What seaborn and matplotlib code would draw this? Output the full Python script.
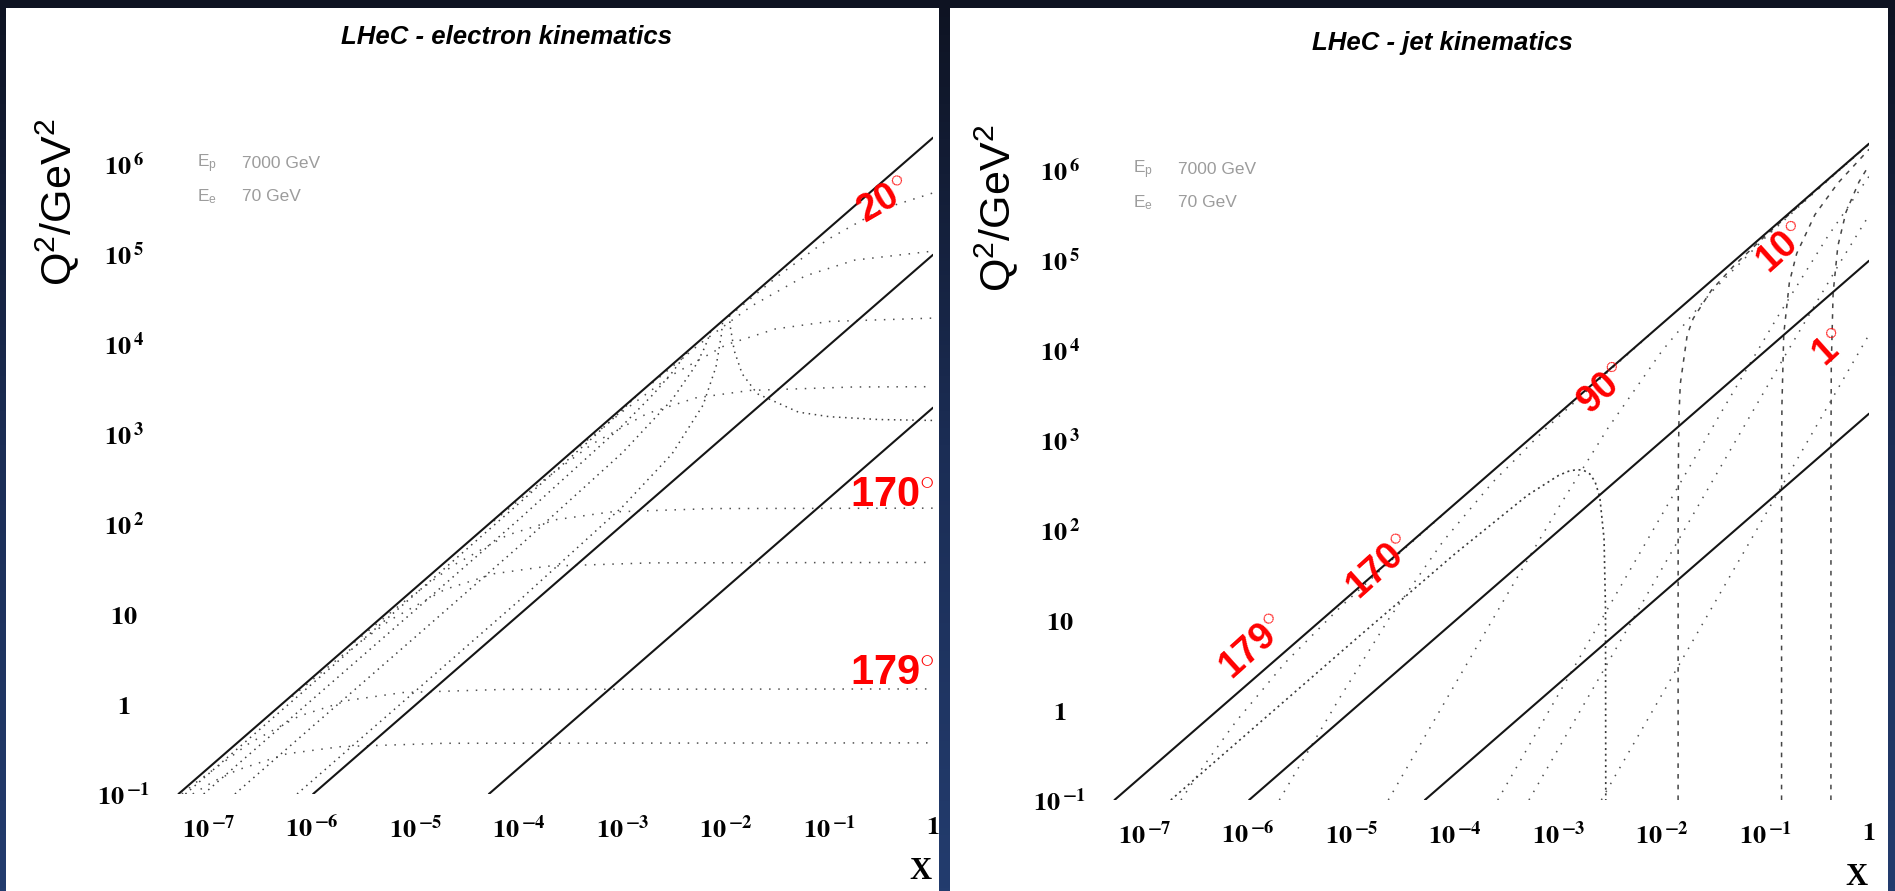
import numpy as np
import pandas as pd
import matplotlib
matplotlib.use("Agg")
import matplotlib.pyplot as plt
from matplotlib.colors import LinearSegmentedColormap
from matplotlib.patches import Rectangle
import seaborn as sns

sns.set_theme(style="white")
plt.rcParams["font.family"] = ["Liberation Sans", "DejaVu Sans"]
plt.rcParams["mathtext.fontset"] = "stix"
plt.rcParams["mathtext.rm"] = "Liberation Sans"
plt.rcParams["mathtext.bf"] = "Liberation Sans:bold"
plt.rcParams["mathtext.it"] = "Liberation Sans:italic"
plt.rcParams["mathtext.sf"] = "Liberation Sans"

# ---------------- axis ticks ----------------
X_TICKS = [1e-7, 1e-6, 1e-5, 1e-4, 1e-3, 1e-2, 1e-1, 1.0]
X_TICK_LABELS = [r"$\mathbf{10}^{\,\mathbf{-7}}$", r"$\mathbf{10}^{\,\mathbf{-6}}$",
                 r"$\mathbf{10}^{\,\mathbf{-5}}$", r"$\mathbf{10}^{\,\mathbf{-4}}$",
                 r"$\mathbf{10}^{\,\mathbf{-3}}$", r"$\mathbf{10}^{\,\mathbf{-2}}$",
                 r"$\mathbf{10}^{\,\mathbf{-1}}$", r"$\mathbf{1}$"]
Q2_TICKS = [1e-1, 1.0, 10.0, 1e2, 1e3, 1e4, 1e5, 1e6]
Q2_TICK_LABELS = [r"$\mathbf{10}^{\,\mathbf{-1}}$", r"$\mathbf{1}$", r"$\mathbf{10}$",
                  r"$\mathbf{10}^{\,\mathbf{2}}$", r"$\mathbf{10}^{\,\mathbf{3}}$",
                  r"$\mathbf{10}^{\,\mathbf{4}}$", r"$\mathbf{10}^{\,\mathbf{5}}$",
                  r"$\mathbf{10}^{\,\mathbf{6}}$"]

TITLES = ["LHeC - electron kinematics", "LHeC - jet kinematics"]
BEAM_NAMES = [r"E$_{\rm p}$", r"E$_{\rm e}$"]
BEAM_VALUES = ["7000 GeV", "70 GeV"]

# ---------------- constant-y lines (both panels) ----------------
Y_LINE_X = {"y=1": [5.1e-8, 1.0], "y=0.05": [1.02e-6, 1.0], "y=0.001": [5.1e-5, 1.0]}
Y_LINE_Q2 = {"y=1": [0.1, 1.96e6], "y=0.05": [0.1, 9.8e4], "y=0.001": [0.1, 1960.0]}

# ---------------- electron panel: scattered-electron angle ----------------
E_THETA_X = {
    "179.5": [7.0e-8, 1.13e-7, 1.9e-7, 5.7e-7, 1.9e-6, 1.9e-5, 1.0],
    "179": [5.5e-8, 7.5e-8, 2.5e-7, 7.5e-7, 2.25e-6, 7.5e-6, 7.5e-5, 1.0],
    "175": [6.4e-7, 1.91e-6, 5.7e-6, 1.91e-5, 5.7e-5, 1.91e-4, 1.91e-3, 1.0],
    "170": [2.55e-6, 7.65e-6, 2.3e-5, 7.65e-5, 2.3e-4, 7.65e-4, 7.65e-3, 1.0],
    "135": [5.7e-5, 1.71e-4, 5.1e-4, 1.71e-3, 5.1e-3, 1.71e-2, 0.171, 1.0],
    "90": [3.3e-4, 1.0e-3, 3.0e-3, 0.01, 0.03, 0.1, 1.0],
    "45": [1.94e-3, 5.8e-3, 1.75e-2, 5.8e-2, 0.175, 1.0],
    "20": [1.07e-2, 3.2e-2, 9.6e-2, 0.32, 1.0],
}
E_THETA_Q2 = {
    "179.5": [0.10, 0.139, 0.185, 0.28, 0.336, 0.366, 0.37],
    "179": [0.10, 0.134, 0.37, 0.735, 1.10, 1.34, 1.455, 1.47],
    "175": [1.21, 3.40, 8.6, 18.7, 28.0, 34.0, 37.0, 37.4],
    "170": [4.84, 13.6, 34.6, 75.0, 112.0, 136.0, 148.5, 150.0],
    "135": [108, 305, 775, 1680, 2520, 3050, 3330, 3355],
    "90": [632, 1780, 4520, 9800, 14700, 17800, 19400],
    "45": [3680, 10400, 26300, 57000, 85500, 107700],
    "20": [20300, 57300, 145000, 315000, 477000],
}

# ---------------- electron panel: scattered-electron energy ----------------
E_ENERGY_X = {
    "10": [5.95e-8, 1e-6, 1e-5, 1e-4, 5e-4, 1e-3, 1.2e-3, 1.43e-3],
    "30": [8.93e-8, 1e-6, 1e-5, 1e-4, 1e-3, 2e-3, 3e-3, 4e-3, 4.29e-3],
    "50": [1.79e-7, 1e-6, 1e-5, 1e-4, 1e-3, 3e-3, 5e-3, 6e-3, 6.6e-3, 7.14e-3],
    "65": [7.14e-7, 1e-5, 1e-4, 1e-3, 3e-3, 6e-3, 8e-3, 9e-3, 9.29e-3],
    "75": [0.01072, 0.011, 0.012, 0.0143, 0.02, 0.05, 0.1, 0.3, 1.0],
}
E_ENERGY_Q2 = {
    "10": [0.1, 1.68, 16.8, 170, 884, 1866, 2290, 2800],
    "30": [0.1, 1.12, 11.2, 113, 1245, 2800, 4800, 7465, 8400],
    "50": [0.1, 0.56, 5.6, 56.6, 622, 2400, 5600, 8400, 10870, 14000],
    "65": [0.1, 1.4, 14.1, 156, 600, 2100, 5600, 12600, 18200],
    "75": [20800, 15400, 8400, 4670, 2800, 1750, 1556, 1448, 1414],
}

# ---------------- jet panel: jet angle ----------------
J_THETA_X = {
    "179": [2.24e-7, 3.81e-7, 7.62e-7, 2.28e-6, 7.62e-6, 2.28e-5, 7.62e-5],
    "170": [2.0e-6, 7.65e-6, 2.3e-5, 7.65e-5, 2.3e-4, 7.65e-4, 2.3e-3, 7.65e-3],
    "90": [2.26e-5, 1e-4, 3e-4, 1e-3, 3e-3, 0.01, 0.03, 0.1, 0.3, 1.0],
    "10": [2.58e-4, 1.306e-3, 3.92e-3, 1.306e-2, 3.92e-2, 0.1306, 0.392, 1.0],
    "5": [5.17e-4, 1.571e-3, 5.24e-3, 1.571e-2, 5.24e-2, 0.1571, 0.524, 1.0],
    "1": [2.59e-3, 3.94e-3, 1.313e-2, 3.94e-2, 0.1313, 0.394, 1.0],
}
J_THETA_Q2 = {
    "179": [0.1, 0.249, 0.746, 3.36, 13.6, 43.3, 147.8],
    "170": [0.1, 1.36, 10.4, 75, 338, 1364, 4355, 14850],
    "90": [0.1, 1.94, 17.1, 178, 1357, 9800, 44100, 178200, 569000, 1.94e6],
    "10": [0.1, 2.56, 23.0, 253.5, 2237, 23300, 177000, 850000],
    "5": [0.1, 0.924, 10.25, 92.1, 1016, 8970, 93300, 314000],
    "1": [0.1, 0.232, 2.57, 23.2, 257, 2309, 14800],
}

# ---------------- jet panel: jet energy ----------------
J_ENERGY_X = {
    "20": [1.786e-7, 1e-6, 1e-5, 1e-4, 5e-4, 1e-3, 1.25e-3, 1.5e-3, 1.75e-3, 2e-3,
           2.25e-3, 2.5e-3, 2.75e-3, 2.84e-3, 2.857e-3],
    "100": [0.014286, 0.0143, 0.0144, 0.0146, 0.015, 0.0175, 0.02, 0.03, 0.05, 0.1, 0.3, 1.0],
    "1000": [0.142857, 0.143, 0.144, 0.15, 0.17, 0.2, 0.3, 0.5, 1.0],
    "3000": [0.428571, 0.429, 0.432, 0.45, 0.5, 0.6, 0.8, 1.0],
}
J_ENERGY_Q2 = {
    "20": [0.1, 0.56, 5.6, 54.6, 243, 404, 450, 469, 460, 420, 345, 233, 79.7, 13.3, 0.1],
    "100": [0.1, 93, 733, 1955, 4200, 14700, 22400, 46200, 87500, 186700, 579300, 1.95e6],
    "1000": [0.1, 301, 2407, 15000, 56500, 117900, 318600, 714300, 1.697e6],
    "3000": [0.1, 860, 6880, 42950, 142900, 341700, 737200, 1.131e6],
}

# ---------------- angle tags ----------------
E_TAG_TEXT = ["20", "170", "179"]
E_TAG_X = [0.337, 0.403, 0.403]
E_TAG_Q2 = [3.88e5, 205.0, 2.16]
E_TAG_ROT = [30, 0, 0]
E_TAG_SIZE = [27, 30, 30]

J_TAG_TEXT = ["179", "170", "90", "10", "1"]
J_TAG_X = [1.13e-6, 1.91e-5, 2.75e-3, 0.148, 0.431]
J_TAG_Q2 = [4.89, 38.8, 3690.0, 1.36e5, 1.03e4]
J_TAG_ROT = [42, 42, 42, 42, 42]
J_TAG_SIZE = [27, 27, 27, 27, 27]


def frame(xs, qs):
    rows = [(name, x, q) for name in xs for x, q in zip(xs[name], qs[name])]
    return pd.DataFrame(rows, columns=["curve", "x", "q2"])


def draw(ax, xs, qs, **kw):
    sns.lineplot(data=frame(xs, qs), x="x", y="q2", units="curve", estimator=None,
                 sort=False, ax=ax, legend=False, **kw)


W, H = 1895, 891
fig = plt.figure(figsize=(W / 100, H / 100), dpi=100)
fig.patch.set_facecolor("#0f1424")

# dark-blue gradient backdrop
bg = fig.add_axes([0, 0, 1, 1], zorder=-10)
grad = np.linspace(0, 1, 256).reshape(-1, 1)
bg.imshow(grad, aspect="auto", extent=[0, 1, 0, 1], origin="upper",
          cmap=LinearSegmentedColormap.from_list("navy", ["#0e1322", "#1b2d55", "#233c6e"]))
bg.axis("off")

# white sheets
for x0, x1 in [(6, 939), (950, 1888)]:
    fig.add_artist(Rectangle((x0 / W, 0), (x1 - x0) / W, (H - 8) / H,
                             transform=fig.transFigure, facecolor="white",
                             edgecolor="none", zorder=-5))

ax_e = fig.add_axes([157 / W, 97 / H, 776 / W, 675 / H])
ax_j = fig.add_axes([1093 / W, 91 / H, 776 / W, 675 / H])

dot_theta = dict(color="#505050", lw=1.1, linestyle=(0, (1, 5)))
dot_energy = dict(color="#404040", lw=1.1, linestyle=(0, (1, 3)))
solid = dict(color="#151515", lw=1.5)

for ax in (ax_e, ax_j):
    ax.set_xscale("log")
    ax.set_yscale("log")
    ax.set_facecolor("none")

# electron kinematics
draw(ax_e, E_THETA_X, E_THETA_Q2, **dot_theta)
draw(ax_e, E_ENERGY_X, E_ENERGY_Q2, **dot_energy)
draw(ax_e, Y_LINE_X, Y_LINE_Q2, **solid)

# jet kinematics
draw(ax_j, J_THETA_X, J_THETA_Q2, **dot_theta)
draw(ax_j, {"20": J_ENERGY_X["20"]}, {"20": J_ENERGY_Q2["20"]},
     color="#383838", lw=1.2, linestyle=(0, (1.2, 2.2)))
draw(ax_j, {k: J_ENERGY_X[k] for k in ["100", "1000", "3000"]},
     {k: J_ENERGY_Q2[k] for k in ["100", "1000", "3000"]},
     color="#454545", lw=1.1, linestyle=(0, (3, 4)))
draw(ax_j, Y_LINE_X, Y_LINE_Q2, **solid)

for ax, title, ylab_x in [(ax_e, TITLES[0], -100 / 776), (ax_j, TITLES[1], -97 / 776)]:
    ax.set_xlim(10 ** -7.5, 1.0)
    ax.set_ylim(0.1, 10 ** 6.5)
    for sp in ax.spines.values():
        sp.set_visible(False)
    ax.set_xticks(X_TICKS, X_TICK_LABELS)
    ax.set_yticks(Q2_TICKS, Q2_TICK_LABELS)
    ax.minorticks_off()
    ax.tick_params(axis="x", length=0, pad=15, labelsize=19, colors="black")
    ax.tick_params(axis="y", length=0, pad=24, labelsize=19, colors="black")
    plt.setp(ax.get_yticklabels(), ha="center")
    ax.grid(False)

    ax.set_ylabel("Q$^2$/GeV$^2$", fontsize=31, math_fontfamily="custom",
                  ha="center", va="center", color="black")
    ax.yaxis.set_label_coords(ylab_x, 0.877)
    ax.set_xlabel("X", fontsize=22, fontfamily="Liberation Serif", fontweight="bold",
                  ha="center", va="center", color="black")
    ax.xaxis.set_label_coords(0.984, -0.115)

    ax.text(0.45, 1.122, title, transform=ax.transAxes, ha="center", va="center",
            fontsize=18.5, fontweight="bold", fontstyle="italic", color="black")

    for i, (nm, val) in enumerate(zip(BEAM_NAMES, BEAM_VALUES)):
        yy = 0.934 - i * 0.049
        ax.text(0.052, yy, nm, transform=ax.transAxes, ha="left", va="center",
                fontsize=12.5, color="#9c9c9c", math_fontfamily="custom")
        ax.text(0.109, yy, val, transform=ax.transAxes, ha="left", va="center",
                fontsize=12.5, color="#9c9c9c")

for ax, texts, xs, qs, rots, sizes in [
        (ax_e, E_TAG_TEXT, E_TAG_X, E_TAG_Q2, E_TAG_ROT, E_TAG_SIZE),
        (ax_j, J_TAG_TEXT, J_TAG_X, J_TAG_Q2, J_TAG_ROT, J_TAG_SIZE)]:
    for t, x, q, r, s in zip(texts, xs, qs, rots, sizes):
        ax.text(x, q, r"$\mathbf{" + t + r"}^{\circ}$", color="#ff0000", fontsize=s,
                ha="center", va="center", rotation=r, rotation_mode="anchor",
                math_fontfamily="custom", clip_on=False, zorder=5)

fig.savefig("out.png", dpi=100, facecolor=fig.get_facecolor())
